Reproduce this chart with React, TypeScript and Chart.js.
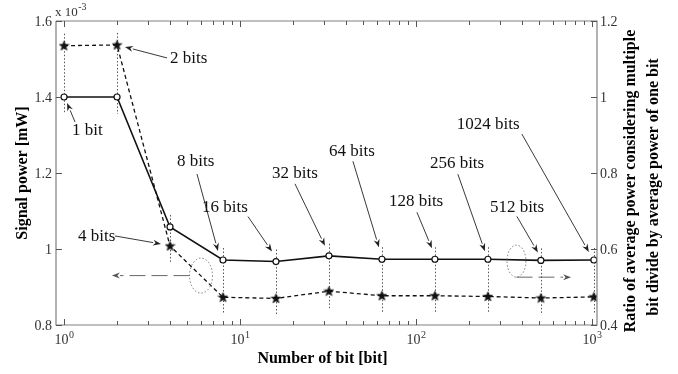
import { useEffect, useRef } from 'react';
import { Chart, registerables } from 'chart.js';
Chart.register(...registerables);

// ---- data ----
const BITS = [1, 2, 4, 8, 16, 32, 64, 128, 256, 512, 1024];
// signal power (x10^-3 mW), left axis, dashed with stars
const SIGNAL_POWER = [1.535, 1.537, 1.008, 0.873, 0.870, 0.889, 0.877, 0.877, 0.875, 0.871, 0.874];
// ratio of average power, right axis, solid with circles
const POWER_RATIO = [1.0, 1.0, 0.658, 0.571, 0.567, 0.582, 0.573, 0.573, 0.573, 0.570, 0.571];
const POINT_LABELS = ['1 bit', '2 bits', '4 bits', '8 bits', '16 bits', '32 bits', '64 bits', '128 bits', '256 bits', '512 bits', '1024 bits'];
const LEFT_TICKS = [0.8, 1, 1.2, 1.4, 1.6];
const LEFT_TICK_LABELS = ['0.8', '1', '1.2', '1.4', '1.6'];
const RIGHT_TICKS = [0.4, 0.6, 0.8, 1, 1.2];
const RIGHT_TICK_LABELS = ['0.4', '0.6', '0.8', '1', '1.2'];
const X_MAJOR = [1, 10, 100, 1000];
const X_EXPONENTS = ['0', '1', '2', '3'];
const X_TITLE = 'Number of bit [bit]';
const LEFT_TITLE = 'Signal power [mW]';
const RIGHT_TITLE = ['Ratio of average power considering multiple', 'bit divide by average power of one bit'];

// annotation layout: which series the arrow points to, and pixel offsets from that point
const ANNOT_SERIES = ['r', 's', 's', 'r', 'r', 'r', 'r', 'r', 'r', 'r', 'r'];
const ANNOT_TIP = [[3, 6], [8, 2], [-9, -2], [-5, -9], [-4, -10], [-4, -10], [-3, -12], [-3, -11], [-3, -8], [-3, -8], [-5, -8]];
const ANNOT_START = [[11, 25], [50, 13], [-55, -10], [-26, -86], [-28, -45], [-34, -72], [-29, -98], [-18, -47], [-30, -85], [-24, -44], [-72, -126]];
const ANNOT_TEXT = [[8, 38], [53, 18], [-92, -5], [-46, -94], [-74, -50], [-57, -78], [-53, -103], [-46, -53], [-58, -91], [-51, -48], [-137, -131]];

const SERIF = '"Liberation Serif", "Times New Roman", serif';

function makeStar(): HTMLCanvasElement {
  const c = document.createElement('canvas');
  c.width = 11; c.height = 11;
  const g = c.getContext('2d')!;
  g.beginPath();
  for (let i = 0; i < 10; i++) {
    const r = i % 2 === 0 ? 5 : 2.1;
    const a = -Math.PI / 2 + (i * Math.PI) / 5;
    const x = 5.5 + r * Math.cos(a), y = 5.8 + r * Math.sin(a);
    if (i === 0) g.moveTo(x, y); else g.lineTo(x, y);
  }
  g.closePath();
  g.fillStyle = '#111';
  g.fill();
  g.strokeStyle = '#111';
  g.lineWidth = 0.7;
  g.stroke();
  return c;
}

function arrow(ctx: CanvasRenderingContext2D, x0: number, y0: number, x1: number, y1: number, color: string, dash: number[] = []) {
  const ang = Math.atan2(y1 - y0, x1 - x0);
  const L = 8, W = 3;
  const bx = x1 - L * Math.cos(ang), by = y1 - L * Math.sin(ang);
  ctx.save();
  ctx.strokeStyle = color;
  ctx.fillStyle = color;
  ctx.lineWidth = 0.9;
  ctx.setLineDash(dash);
  ctx.beginPath();
  ctx.moveTo(x0, y0);
  ctx.lineTo(bx, by);
  ctx.stroke();
  ctx.setLineDash([]);
  ctx.beginPath();
  ctx.moveTo(x1, y1);
  ctx.lineTo(bx - W * Math.sin(ang), by + W * Math.cos(ang));
  ctx.lineTo(x1 - (L - 2.5) * Math.cos(ang), y1 - (L - 2.5) * Math.sin(ang));
  ctx.lineTo(bx + W * Math.sin(ang), by - W * Math.cos(ang));
  ctx.closePath();
  ctx.fill();
  ctx.restore();
}

function supText(ctx: CanvasRenderingContext2D, base: string, exp: string, cx: number, y: number, bs: number, es: number, align: 'center' | 'left') {
  ctx.font = `${bs}px ${SERIF}`;
  const bw = ctx.measureText(base).width;
  ctx.font = `${es}px ${SERIF}`;
  const ew = ctx.measureText(exp).width;
  const x0 = align === 'center' ? cx - (bw + ew) / 2 : cx;
  ctx.textAlign = 'left';
  ctx.textBaseline = 'alphabetic';
  ctx.font = `${bs}px ${SERIF}`;
  ctx.fillText(base, x0, y);
  ctx.font = `${es}px ${SERIF}`;
  ctx.fillText(exp, x0 + bw + 0.5, y - bs * 0.45);
}

const decor = {
  id: 'decor',
  beforeDatasetsDraw(chart: any) {
    const ctx: CanvasRenderingContext2D = chart.ctx;
    const xs = chart.scales.x, yl = chart.scales.y, yr = chart.scales.y1;
    ctx.save();
    ctx.strokeStyle = '#555';
    ctx.lineWidth = 1;
    ctx.setLineDash([1.5, 2]);
    BITS.forEach((b, i) => {
      const x = Math.round(xs.getPixelForValue(b)) + 0.5;
      const a = yl.getPixelForValue(SIGNAL_POWER[i]);
      const c = yr.getPixelForValue(POWER_RATIO[i]);
      ctx.beginPath();
      ctx.moveTo(x, Math.min(a, c) - 12);
      ctx.lineTo(x, Math.max(a, c) + 17);
      ctx.stroke();
    });
    ctx.restore();
  },
  afterDraw(chart: any) {
    const ctx: CanvasRenderingContext2D = chart.ctx;
    const { left, right, top, bottom } = chart.chartArea;
    const xs = chart.scales.x, yl = chart.scales.y, yr = chart.scales.y1;
    ctx.save();
    // axes box
    ctx.strokeStyle = '#808080';
    ctx.lineWidth = 1.2;
    ctx.beginPath();
    ctx.moveTo(left, top); ctx.lineTo(left, bottom); ctx.lineTo(right, bottom); ctx.lineTo(right, top); ctx.lineTo(left, top);
    ctx.stroke();
    // x ticks (bottom and top)
    ctx.lineWidth = 1;
    ctx.strokeStyle = '#555';
    for (let d = 0; d <= 3; d++) {
      for (let m = 1; m <= 9; m++) {
        const v = m * Math.pow(10, d);
        if (v < xs.min || v > xs.max) continue;
        const x = Math.round(xs.getPixelForValue(v)) + 0.5;
        const len = m === 1 ? 6 : 4;
        ctx.beginPath();
        ctx.moveTo(x, bottom); ctx.lineTo(x, bottom - len);
        ctx.moveTo(x, top); ctx.lineTo(x, top + len);
        ctx.stroke();
      }
    }
    // y ticks
    LEFT_TICKS.forEach((v) => {
      const y = Math.round(yl.getPixelForValue(v)) + 0.5;
      ctx.beginPath(); ctx.moveTo(left, y); ctx.lineTo(left + 6, y); ctx.stroke();
    });
    RIGHT_TICKS.forEach((v) => {
      const y = Math.round(yr.getPixelForValue(v)) + 0.5;
      ctx.beginPath(); ctx.moveTo(right, y); ctx.lineTo(right - 6, y); ctx.stroke();
    });
    // tick labels
    ctx.fillStyle = '#333';
    ctx.font = `14px ${SERIF}`;
    ctx.textBaseline = 'middle';
    ctx.textAlign = 'right';
    LEFT_TICKS.forEach((v, i) => ctx.fillText(LEFT_TICK_LABELS[i], left - 4, yl.getPixelForValue(v) + 1));
    ctx.textAlign = 'left';
    RIGHT_TICKS.forEach((v, i) => ctx.fillText(RIGHT_TICK_LABELS[i], right + 3, yr.getPixelForValue(v) + 1));
    X_MAJOR.forEach((v, i) => supText(ctx, '10', X_EXPONENTS[i], xs.getPixelForValue(v), bottom + 19, 14, 10, 'center'));
    supText(ctx, 'x 10', '-3', left - 1, top - 5, 13, 10, 'left');
    // axis titles
    ctx.fillStyle = '#000';
    ctx.font = `bold 16px ${SERIF}`;
    ctx.textAlign = 'center';
    ctx.textBaseline = 'alphabetic';
    ctx.fillText(X_TITLE, (left + right) / 2 - 4, bottom + 38);
    ctx.save();
    ctx.translate(23, (top + bottom) / 2);
    ctx.rotate(-Math.PI / 2);
    ctx.textBaseline = 'middle';
    ctx.fillText(LEFT_TITLE, 0, 0);
    ctx.restore();
    ctx.save();
    ctx.translate(631, 181);
    ctx.rotate(-Math.PI / 2);
    ctx.textBaseline = 'middle';
    ctx.fillText(RIGHT_TITLE[0], 0, 0);
    ctx.fillText(RIGHT_TITLE[1], -6, 23);
    ctx.restore();
    // point annotations
    ctx.font = `17px ${SERIF}`;
    ctx.textAlign = 'left';
    ctx.textBaseline = 'alphabetic';
    BITS.forEach((b, i) => {
      const px = xs.getPixelForValue(b);
      const py = ANNOT_SERIES[i] === 's' ? yl.getPixelForValue(SIGNAL_POWER[i]) : yr.getPixelForValue(POWER_RATIO[i]);
      ctx.fillStyle = '#111';
      ctx.fillText(POINT_LABELS[i], px + ANNOT_TEXT[i][0], py + ANNOT_TEXT[i][1]);
      arrow(ctx, px + ANNOT_START[i][0], py + ANNOT_START[i][1], px + ANNOT_TIP[i][0], py + ANNOT_TIP[i][1], '#222');
    });
    // axis-indicator ellipses + dashed arrows
    ctx.strokeStyle = '#777';
    ctx.lineWidth = 1;
    ctx.setLineDash([1.5, 2]);
    const lx = xs.getPixelForValue(6), ly = yl.getPixelForValue(0.93);
    ctx.beginPath(); ctx.ellipse(lx, ly, 11.5, 17.5, 0, 0, Math.PI * 2); ctx.stroke();
    const rx = xs.getPixelForValue(372), ry = yr.getPixelForValue(0.568);
    ctx.beginPath(); ctx.ellipse(rx, ry, 9.5, 16, 0, 0, Math.PI * 2); ctx.stroke();
    ctx.setLineDash([]);
    arrow(ctx, lx - 11.5, ly, xs.getPixelForValue(1.87), ly, '#555', [16, 6]);
    arrow(ctx, rx, ry + 16, xs.getPixelForValue(760), ry + 16, '#555', [16, 6]);
    ctx.restore();
  },
};

export default function App() {
  const ref = useRef<HTMLCanvasElement>(null);
  useEffect(() => {
    document.body.style.margin = '0';
    const canvas = ref.current!;
    const star = makeStar();
    const chart = new Chart(canvas, {
      type: 'line',
      data: {
        datasets: [
          {
            label: 'Signal power',
            data: BITS.map((b, i) => ({ x: b, y: SIGNAL_POWER[i] })),
            yAxisID: 'y',
            borderColor: '#111',
            borderWidth: 1.3,
            borderDash: [4, 3],
            pointStyle: star as any,
            pointRadius: 5,
            tension: 0,
          },
          {
            label: 'Ratio',
            data: BITS.map((b, i) => ({ x: b, y: POWER_RATIO[i] })),
            yAxisID: 'y1',
            borderColor: '#111',
            borderWidth: 1.6,
            pointStyle: 'circle',
            pointRadius: 3,
            pointBackgroundColor: '#fff',
            pointBorderColor: '#111',
            pointBorderWidth: 1.2,
            tension: 0,
          },
        ],
      },
      options: {
        responsive: false,
        animation: false,
        events: [],
        layout: { padding: { left: 56, right: 81, top: 21, bottom: 49 } },
        plugins: { legend: { display: false }, tooltip: { enabled: false } },
        scales: {
          x: { type: 'logarithmic', min: 0.9, max: 1067, display: false },
          y: { type: 'linear', position: 'left', min: 0.8, max: 1.6, display: false },
          y1: { type: 'linear', position: 'right', min: 0.4, max: 1.2, display: false },
        },
      },
      plugins: [decor],
    } as any);
    return () => chart.destroy();
  }, []);
  return <canvas ref={ref} width={678} height={374} style={{ display: 'block' }} />;
}
